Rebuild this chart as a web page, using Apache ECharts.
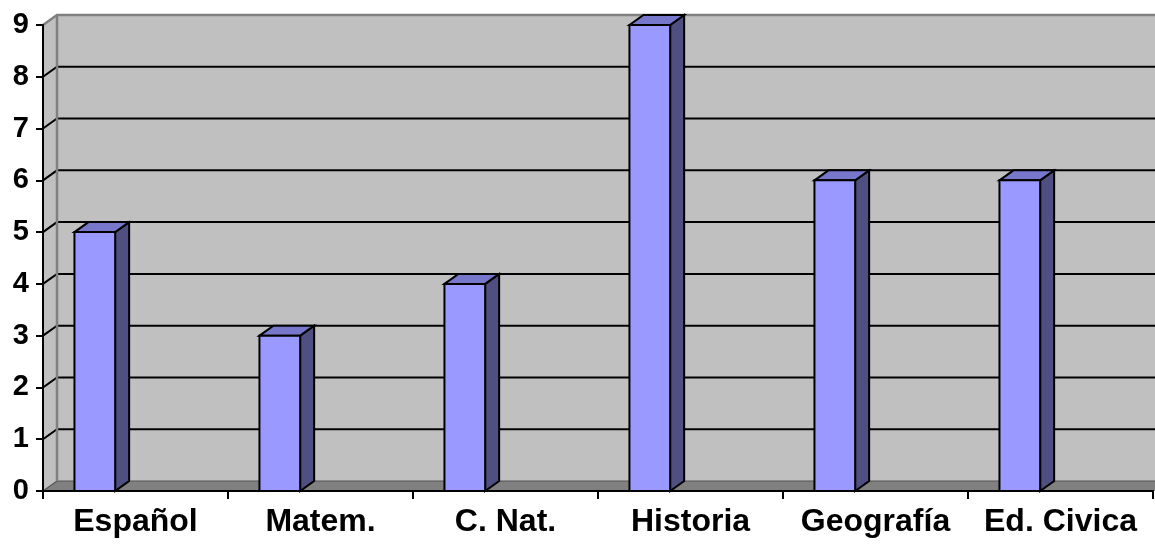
<!DOCTYPE html>
<html>
<head>
<meta charset="utf-8">
<script src="https://cdn.jsdelivr.net/npm/echarts@6/dist/echarts.min.js"></script>
<style>
html,body{margin:0;padding:0;background:#fff;}
#c{width:1155px;height:544px;}
</style>
</head>
<body>
<div id="c"></div>
<script>
var categories = ['Español', 'Matem.', 'C. Nat.', 'Historia', 'Geografía', 'Ed. Civica'];
var values = [5, 3, 4, 9, 6, 6];
var yTicks = [0, 1, 2, 3, 4, 5, 6, 7, 8, 9];

var DX = 14, DY = -10;

var chart = echarts.init(document.getElementById('c'));

function wallsRender(params, api) {
  var cs = params.coordSys;
  var x0 = cs.x, x1 = cs.x + cs.width + 30;
  var yTop = cs.y, yBot = cs.y + cs.height;
  var ch = [];
  ch.push({type: 'rect', shape: {x: x0 + DX, y: yTop + DY, width: x1 - x0, height: yBot - yTop}, style: {fill: '#c0c0c0'}});
  ch.push({type: 'polygon', shape: {points: [[x0, yTop], [x0 + DX, yTop + DY], [x0 + DX, yBot + DY], [x0, yBot]]}, style: {fill: '#c0c0c0'}});
  ch.push({type: 'polygon', shape: {points: [[x0, yBot], [x1, yBot], [x1 + DX, yBot + DY], [x0 + DX, yBot + DY]]}, style: {fill: '#808080'}});
  ch.push({type: 'polyline', shape: {points: [[x0 + DX, yBot + DY], [x1 + DX, yBot + DY]]}, style: {stroke: '#555', lineWidth: 1.2, fill: null}});
  ch.push({type: 'polyline', shape: {points: [[x0, yBot], [x0 + DX, yBot + DY]]}, style: {stroke: '#555', lineWidth: 1.2, fill: null}});
  for (var i = 0; i < yTicks.length; i++) {
    var v = yTicks[i];
    if (v === 0) continue;
    var y = api.coord([0, v])[1];
    var isTop = v === yTicks[yTicks.length - 1];
    ch.push({type: 'polyline', shape: {points: [[x0, y], [x0 + DX, y + DY], [x1 + DX, y + DY]]},
      style: {stroke: isTop ? '#808080' : '#000', lineWidth: isTop ? 2.5 : 2, fill: null}});
  }
  ch.push({type: 'line', shape: {x1: x0 + DX, y1: yTop + DY, x2: x0 + DX, y2: yBot + DY}, style: {stroke: '#808080', lineWidth: 2.5}});
  return {type: 'group', children: ch};
}

function barRender(params, api) {
  var idx = api.value(0), v = api.value(1);
  var top = api.coord([idx, v]);
  var base = api.coord([idx, 0]);
  var cw = api.size([1, 0])[0];
  var xl = base[0] - cw / 2 + cw * 0.17;
  var xr = xl + cw * 0.22;
  var yt = top[1], yb = base[1];
  var s = {stroke: '#000', lineWidth: 2, lineJoin: 'miter'};
  return {type: 'group', children: [
    {type: 'polygon', shape: {points: [[xr, yt], [xr + DX, yt + DY], [xr + DX, yb + DY], [xr, yb]]}, style: Object.assign({fill: '#4f4f82'}, s)},
    {type: 'polygon', shape: {points: [[xl, yt], [xl + DX, yt + DY], [xr + DX, yt + DY], [xr, yt]]}, style: Object.assign({fill: '#7777cc'}, s)},
    {type: 'rect', shape: {x: xl, y: yt, width: xr - xl, height: yb - yt}, style: Object.assign({fill: '#9999ff'}, s)}
  ]};
}

chart.setOption({
  animation: false,
  grid: {left: 43, right: 2, top: 25, bottom: 53, containLabel: false},
  xAxis: {
    type: 'category', data: categories, boundaryGap: true, z: 10,
    axisLine: {show: true, lineStyle: {color: '#000', width: 2}},
    axisTick: {show: true, length: 8, inside: false, lineStyle: {color: '#000', width: 2}},
    axisLabel: {color: '#000', fontFamily: 'Liberation Sans, Arial', fontWeight: 'bold', fontSize: 32, margin: 15, interval: 0},
    splitLine: {show: false}
  },
  yAxis: {
    type: 'value', min: 0, max: 9, interval: 1, z: 10,
    axisLine: {show: true, lineStyle: {color: '#000', width: 2}},
    axisTick: {show: true, length: 7, lineStyle: {color: '#000', width: 2}},
    axisLabel: {color: '#000', fontFamily: 'Liberation Sans, Arial', fontWeight: 'bold', fontSize: 29, margin: 14},
    splitLine: {show: false}
  },
  series: [
    {type: 'custom', z: 1, clip: false, silent: true, data: [[0, 0]], renderItem: wallsRender},
    {type: 'custom', z: 5, clip: false, data: values.map(function (v, i) { return [i, v]; }), renderItem: barRender}
  ]
});
</script>
</body>
</html>
